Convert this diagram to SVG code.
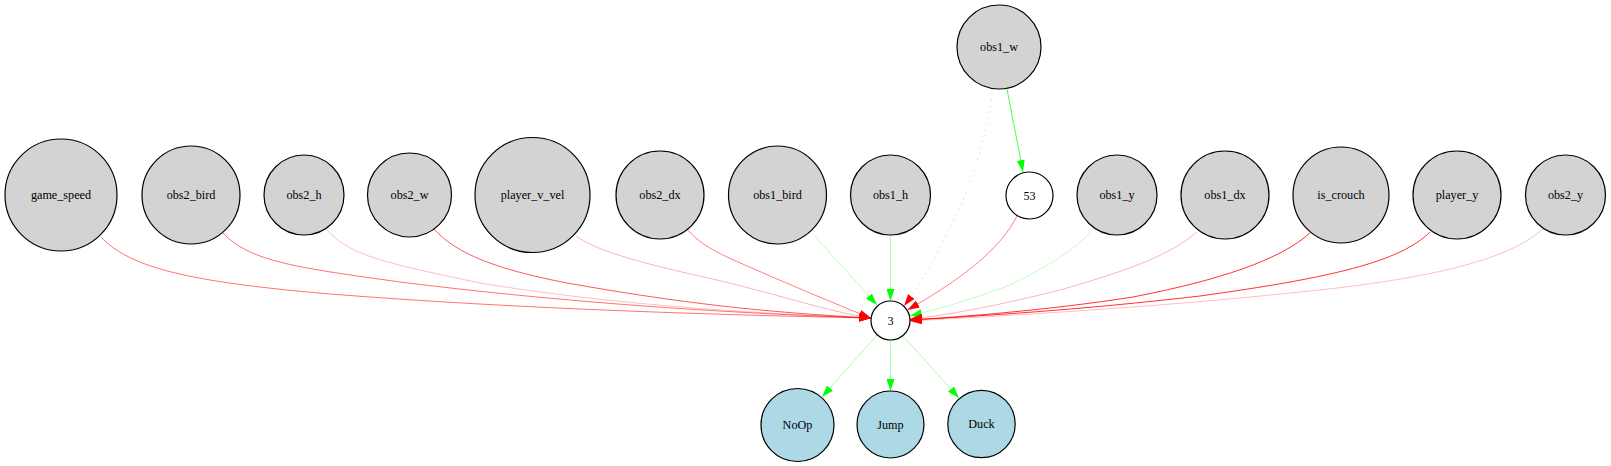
<svg xmlns="http://www.w3.org/2000/svg" width="1611" height="466" viewBox="0 0 1611 466" font-family="'Liberation Serif', 'Times New Roman', serif">
<style>
.in{fill:#d3d3d3;stroke:#000;stroke-width:1.2}
.hid{fill:#ffffff;stroke:#000;stroke-width:1.2}
.out{fill:#add8e6;stroke:#000;stroke-width:1.2}
text{font-family:"Liberation Serif","Times New Roman",serif;font-size:12.2px;text-anchor:middle;fill:#000}
.r{fill:none;stroke:#ff0000;stroke-width:1;marker-end:url(#ar)}
.g{fill:none;stroke:#00ff00;stroke-width:1;marker-end:url(#ag)}
</style>
<defs>
<marker id="ar" viewBox="0 0 12 8" markerWidth="12" markerHeight="8" refX="12" refY="4" orient="auto" markerUnits="userSpaceOnUse"><path d="M0,0 L12,4 L0,8 z" fill="#ff0000"/></marker>
<marker id="ag" viewBox="0 0 12 8" markerWidth="12" markerHeight="8" refX="12" refY="4" orient="auto" markerUnits="userSpaceOnUse"><path d="M0,0 L12,4 L0,8 z" fill="#00ff00"/></marker>
</defs>
<rect width="1611" height="466" fill="#fff"/>
<g id="connectors">
<path class="r" stroke-opacity="0.55" d="M101,237 C130,268 190,282 330,294 C520,309 720,315 871,318"/>
<path class="r" stroke-opacity="0.55" d="M223,233 C250,262 300,268 400,282 C560,302 720,313 871,318"/>
<path class="r" stroke-opacity="0.25" d="M327,230 C350,255 380,262 480,283 C600,303 740,313 871,318"/>
<path class="r" stroke-opacity="0.65" d="M434,229 C455,252 490,268 567,283 C680,303 760,312 871,318"/>
<path class="r" stroke-opacity="0.3" d="M576,236 C600,253 650,265 717,280 C780,295 830,312 871,318"/>
<path class="r" stroke-opacity="0.5" d="M688,230 C705,250 730,258 770,276 C810,293 850,310 871,318"/>
<path class="g" stroke-opacity="0.25" d="M812,233 L877,305"/>
<path class="g" stroke-opacity="0.3" d="M890.5,235 L890.5,301"/>
<path class="r" stroke-opacity="0.3" stroke-dasharray="1,5" d="M993,88 C985,150 965,200 947,233 C935,260 920,285 904,306"/>
<path class="g" stroke-opacity="0.7" d="M1007,89 L1023,172"/>
<path class="r" stroke-opacity="0.5" d="M1017,216 C1000,250 960,280 907.5,310"/>
<path class="g" stroke-opacity="0.25" d="M1093,229 C1075,250 1050,265 1010,285 C970,300 935,310 910,316"/>
<path class="r" stroke-opacity="0.3" d="M1197,232 C1170,255 1130,270 1060,290 C1000,305 950,315 910,319"/>
<path class="r" stroke-opacity="0.8" d="M1310,233 C1280,260 1220,280 1133,297 C1050,310 960,317 910,320"/>
<path class="r" stroke-opacity="0.8" d="M1430,232 C1400,262 1330,278 1200,296 C1080,310 980,316 910,320"/>
<path class="r" stroke-opacity="0.25" d="M1543,229 C1510,258 1440,278 1300,292 C1150,308 1000,316 910,321"/>
<path class="g" stroke-opacity="0.35" d="M877,335 L822,397"/>
<path class="g" stroke-opacity="0.35" d="M890.5,340 L890.5,391"/>
<path class="g" stroke-opacity="0.35" d="M903,336 L959,398"/>
</g>
<g id="game_speed"><circle class="in" cx="61" cy="195" r="56"/><text x="61" y="199">game_speed</text></g>
<g id="obs2_bird"><circle class="in" cx="191" cy="195" r="49"/><text x="191" y="199">obs2_bird</text></g>
<g id="obs2_h"><circle class="in" cx="304" cy="195" r="40"/><text x="304" y="199">obs2_h</text></g>
<g id="obs2_w"><circle class="in" cx="409.5" cy="195" r="42"/><text x="409.5" y="199">obs2_w</text></g>
<g id="player_v_vel"><circle class="in" cx="532.5" cy="195" r="57.5"/><text x="532.5" y="199">player_v_vel</text></g>
<g id="obs2_dx"><circle class="in" cx="660" cy="195" r="44"/><text x="660" y="199">obs2_dx</text></g>
<g id="obs1_bird"><circle class="in" cx="777.5" cy="195" r="49"/><text x="777.5" y="199">obs1_bird</text></g>
<g id="obs1_h"><circle class="in" cx="890.5" cy="195" r="40"/><text x="890.5" y="199">obs1_h</text></g>
<g id="obs1_w"><circle class="in" cx="999" cy="47" r="42"/><text x="999" y="51">obs1_w</text></g>
<g id="n53"><circle class="hid" cx="1029.5" cy="195.5" r="23.5"/><text x="1029.5" y="199.5">53</text></g>
<g id="obs1_y"><circle class="in" cx="1117" cy="195" r="40"/><text x="1117" y="199">obs1_y</text></g>
<g id="obs1_dx"><circle class="in" cx="1225" cy="195" r="44"/><text x="1225" y="199">obs1_dx</text></g>
<g id="is_crouch"><circle class="in" cx="1341" cy="195" r="48"/><text x="1341" y="199">is_crouch</text></g>
<g id="player_y"><circle class="in" cx="1457" cy="195" r="44"/><text x="1457" y="199">player_y</text></g>
<g id="obs2_y"><circle class="in" cx="1565.5" cy="195" r="40"/><text x="1565.5" y="199">obs2_y</text></g>
<g id="n3"><circle class="hid" cx="890.5" cy="320.5" r="19.5"/><text x="890.5" y="324.5">3</text></g>
<g id="NoOp"><circle class="out" cx="797.5" cy="425" r="36.5"/><text x="797.5" y="429">NoOp</text></g>
<g id="Jump"><circle class="out" cx="890.5" cy="424.5" r="33.5"/><text x="890.5" y="428.5">Jump</text></g>
<g id="Duck"><circle class="out" cx="981.5" cy="424" r="33.7"/><text x="981.5" y="428">Duck</text></g>
</svg>
